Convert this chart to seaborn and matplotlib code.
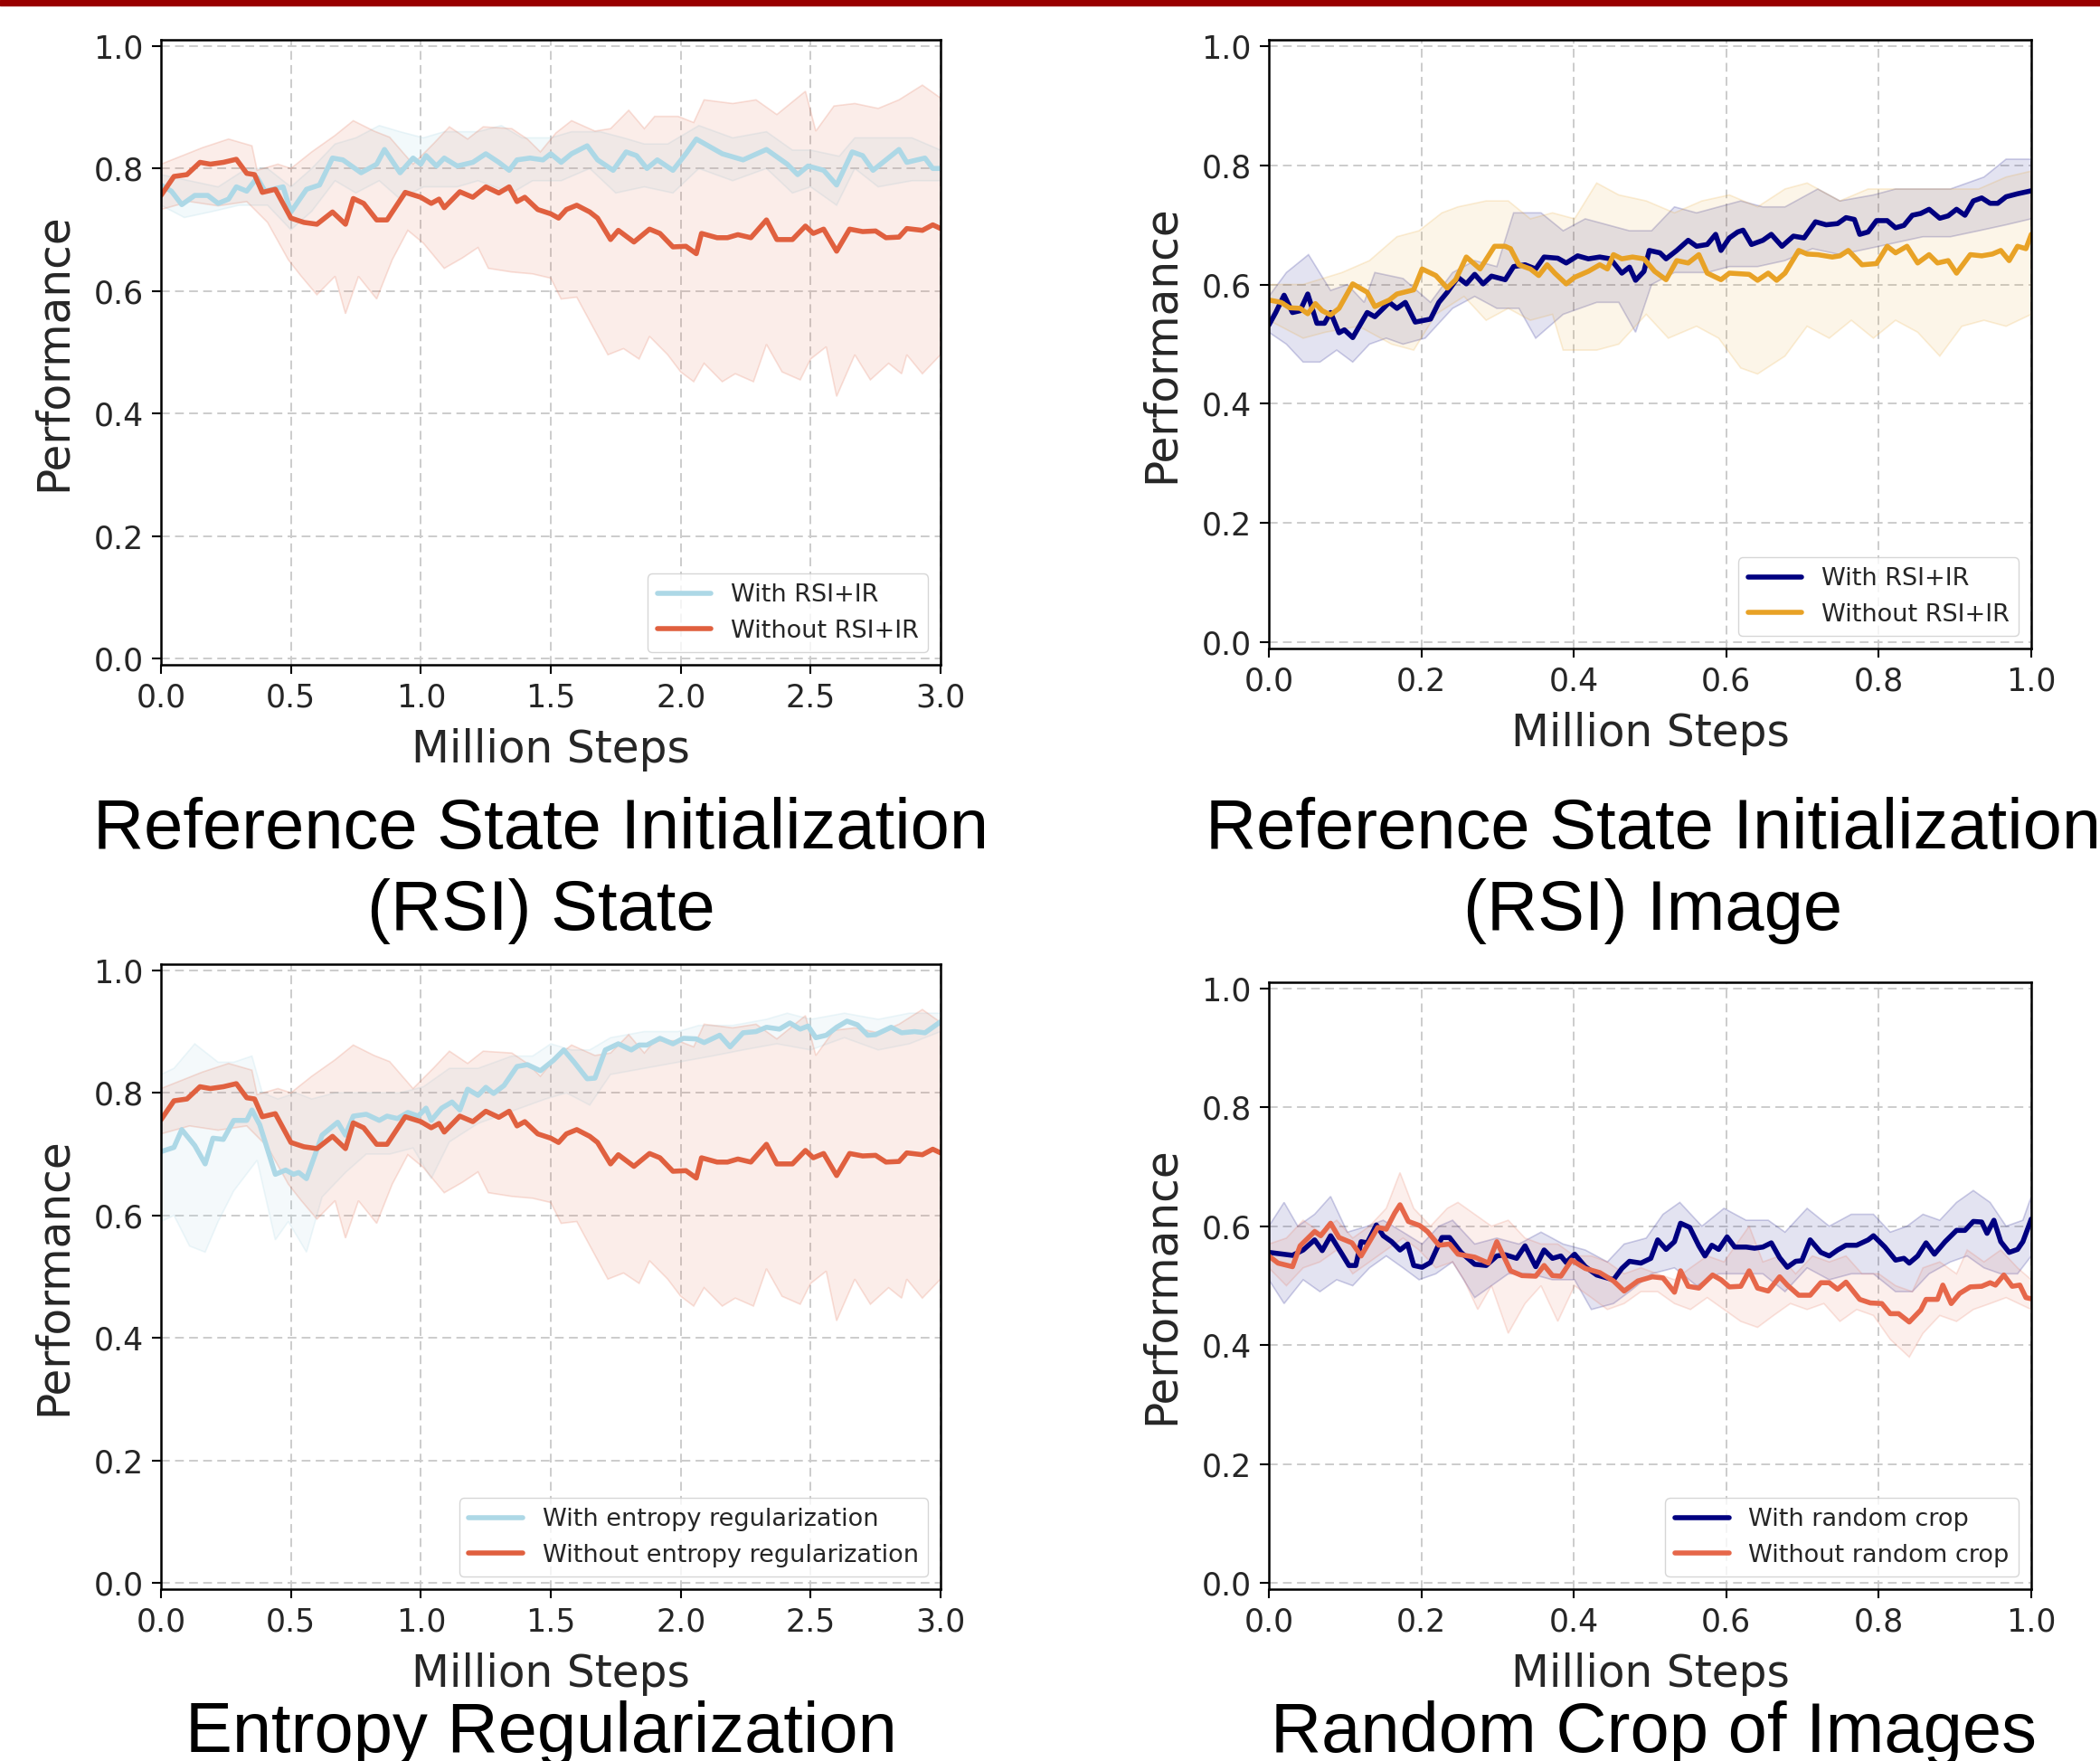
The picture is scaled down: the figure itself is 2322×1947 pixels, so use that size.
import numpy as np
import matplotlib
matplotlib.use("Agg")
import matplotlib.pyplot as plt
import seaborn as sns
from matplotlib.patches import Rectangle
from matplotlib.colors import to_rgba

# ---------------- DATA ----------------
# Panel 1: Reference State Initialization (RSI) State  (x in million steps)
p1_with_x = [0, 0.04, 0.08, 0.13, 0.18, 0.22, 0.26, 0.29, 0.33, 0.37,
             0.4, 0.47, 0.5, 0.56, 0.61, 0.66, 0.7, 0.77, 0.83, 0.86,
             0.92, 0.97, 1.0, 1.02, 1.06, 1.09, 1.14, 1.2, 1.25, 1.3,
             1.34, 1.37, 1.42, 1.47, 1.5, 1.54, 1.58, 1.64, 1.68, 1.74,
             1.79, 1.83, 1.87, 1.91, 1.97, 2.02, 2.06, 2.16, 2.24, 2.33,
             2.41, 2.45, 2.49, 2.55, 2.6, 2.66, 2.7, 2.74, 2.84, 2.87,
             2.94, 2.97, 3.0]
p1_with_y = [0.773, 0.763, 0.741, 0.756, 0.756, 0.743, 0.75, 0.77, 0.763, 0.785,
             0.763, 0.77, 0.729, 0.766, 0.773, 0.817, 0.814, 0.793, 0.807, 0.831,
             0.793, 0.817, 0.807, 0.821, 0.804, 0.817, 0.804, 0.81, 0.824, 0.81,
             0.797, 0.814, 0.817, 0.814, 0.824, 0.81, 0.824, 0.837, 0.814, 0.797,
             0.827, 0.821, 0.80, 0.814, 0.797, 0.824, 0.848, 0.824, 0.814, 0.831,
             0.807, 0.79, 0.804, 0.797, 0.773, 0.827, 0.821, 0.797, 0.831, 0.81,
             0.817, 0.80, 0.80]
p1_with_up_x = [0, 0.11, 0.22, 0.33, 0.41, 0.5, 0.58, 0.67, 0.75, 0.84,
                0.92, 1.01, 1.09, 1.22, 1.31, 1.39, 1.5, 1.58, 1.69, 1.78,
                1.86, 1.95, 2.07, 2.2, 2.33, 2.43, 2.5, 2.61, 2.67, 2.8,
                2.89, 3.0]
p1_with_up_y = [0.79, 0.78, 0.77, 0.80, 0.80, 0.77, 0.80, 0.84, 0.85, 0.87,
                0.86, 0.85, 0.86, 0.86, 0.87, 0.85, 0.85, 0.86, 0.86, 0.85,
                0.84, 0.84, 0.87, 0.85, 0.86, 0.83, 0.83, 0.82, 0.85, 0.85,
                0.85, 0.83]
p1_with_lo_x = [0, 0.09, 0.2, 0.3, 0.41, 0.5, 0.58, 0.67, 0.75, 0.84,
                0.92, 1.01, 1.14, 1.22, 1.35, 1.43, 1.54, 1.65, 1.75, 1.86,
                1.97, 2.07, 2.2, 2.33, 2.43, 2.5, 2.6, 2.67, 2.76, 2.89,
                3.0]
p1_with_lo_y = [0.74, 0.72, 0.73, 0.74, 0.74, 0.70, 0.73, 0.78, 0.76, 0.78,
                0.75, 0.77, 0.77, 0.78, 0.76, 0.78, 0.78, 0.80, 0.76, 0.77,
                0.76, 0.80, 0.78, 0.80, 0.76, 0.77, 0.74, 0.80, 0.77, 0.78,
                0.78]

p1_without_x = [0.0, 0.05, 0.10, 0.15, 0.19, 0.24, 0.29, 0.33, 0.36, 0.39,
                0.44, 0.50, 0.55, 0.60, 0.66, 0.71, 0.74, 0.78, 0.83, 0.87,
                0.94, 1.0, 1.04, 1.07, 1.09, 1.15, 1.2, 1.25, 1.3, 1.34,
                1.37, 1.4, 1.45, 1.5, 1.53, 1.56, 1.6, 1.65, 1.68, 1.73,
                1.76, 1.82, 1.88, 1.92, 1.97, 2.02, 2.06, 2.08, 2.14, 2.18,
                2.22, 2.27, 2.33, 2.37, 2.43, 2.48, 2.51, 2.55, 2.6, 2.65,
                2.7, 2.75, 2.79, 2.84, 2.87, 2.93, 2.97, 3.0]
p1_without_y = [0.756, 0.787, 0.79, 0.81, 0.807, 0.81, 0.815, 0.792, 0.79, 0.761,
                0.766, 0.719, 0.712, 0.709, 0.729, 0.709, 0.751, 0.743, 0.716, 0.716,
                0.761, 0.753, 0.743, 0.75, 0.736, 0.762, 0.753, 0.77, 0.76, 0.77,
                0.746, 0.753, 0.733, 0.726, 0.719, 0.733, 0.74, 0.729, 0.719, 0.684,
                0.699, 0.68, 0.701, 0.694, 0.672, 0.673, 0.661, 0.694, 0.687, 0.687,
                0.692, 0.687, 0.716, 0.684, 0.684, 0.706, 0.694, 0.701, 0.665, 0.701,
                0.697, 0.698, 0.687, 0.688, 0.702, 0.699, 0.708, 0.702]
p1_without_up_x = [0, 0.16, 0.26, 0.35, 0.37, 0.45, 0.5, 0.58, 0.67, 0.74,
                   0.82, 0.88, 0.97, 1.05, 1.11, 1.18, 1.24, 1.35, 1.41, 1.46,
                   1.52, 1.58, 1.67, 1.73, 1.8, 1.86, 1.9, 1.99, 2.05, 2.09,
                   2.2, 2.29, 2.37, 2.48, 2.52, 2.59, 2.67, 2.76, 2.84, 2.93,
                   3.0]
p1_without_up_y = [0.807, 0.834, 0.848, 0.837, 0.797, 0.807, 0.80, 0.827, 0.854, 0.878,
                   0.861, 0.851, 0.807, 0.841, 0.868, 0.848, 0.868, 0.865, 0.848, 0.827,
                   0.858, 0.878, 0.861, 0.865, 0.895, 0.865, 0.885, 0.885, 0.875, 0.912,
                   0.906, 0.912, 0.888, 0.926, 0.861, 0.902, 0.906, 0.898, 0.912, 0.936,
                   0.915]
p1_without_lo_x = [0, 0.11, 0.22, 0.33, 0.41, 0.49, 0.54, 0.60, 0.67, 0.71,
                   0.76, 0.83, 0.89, 0.95, 1.01, 1.09, 1.16, 1.22, 1.26, 1.35,
                   1.43, 1.5, 1.54, 1.6, 1.66, 1.72, 1.78, 1.84, 1.88, 1.95,
                   2.0, 2.05, 2.09, 2.16, 2.21, 2.28, 2.33, 2.39, 2.46, 2.5,
                   2.56, 2.6, 2.67, 2.73, 2.8, 2.85, 2.87, 2.93, 3.0]
p1_without_lo_y = [0.733, 0.746, 0.739, 0.746, 0.712, 0.651, 0.624, 0.594, 0.624, 0.563,
                   0.624, 0.587, 0.651, 0.699, 0.678, 0.637, 0.654, 0.671, 0.637, 0.631,
                   0.628, 0.621, 0.587, 0.59, 0.543, 0.496, 0.506, 0.489, 0.526, 0.496,
                   0.468, 0.452, 0.482, 0.452, 0.465, 0.452, 0.513, 0.468, 0.455, 0.489,
                   0.509, 0.428, 0.496, 0.455, 0.482, 0.465, 0.496, 0.465, 0.496]

# Panel 2: Reference State Initialization (RSI) Image
p2_with_x = [0, 0.009, 0.02, 0.031, 0.041, 0.051, 0.063, 0.073, 0.081, 0.092,
             0.099, 0.11, 0.129, 0.139, 0.158, 0.168, 0.179, 0.192, 0.212, 0.223,
             0.234, 0.248, 0.259, 0.27, 0.281, 0.292, 0.31, 0.321, 0.336, 0.35,
             0.361, 0.379, 0.39, 0.405, 0.419, 0.434, 0.448, 0.463, 0.473, 0.481,
             0.492, 0.499, 0.513, 0.521, 0.535, 0.55, 0.561, 0.575, 0.586, 0.593,
             0.604, 0.615, 0.622, 0.633, 0.648, 0.659, 0.673, 0.688, 0.702, 0.717,
             0.731, 0.746, 0.757, 0.768, 0.775, 0.786, 0.797, 0.811, 0.822, 0.833,
             0.844, 0.855, 0.866, 0.88, 0.891, 0.902, 0.913, 0.924, 0.935, 0.946,
             0.956, 0.967, 0.982, 1.0]
p2_with_y = [0.532, 0.553, 0.582, 0.553, 0.556, 0.584, 0.535, 0.535, 0.553, 0.519,
             0.524, 0.511, 0.553, 0.546, 0.57, 0.56, 0.57, 0.537, 0.542, 0.57,
             0.587, 0.612, 0.601, 0.617, 0.601, 0.614, 0.608, 0.63, 0.633, 0.626,
             0.646, 0.644, 0.636, 0.648, 0.643, 0.646, 0.643, 0.619, 0.629, 0.607,
             0.622, 0.657, 0.653, 0.643, 0.657, 0.674, 0.664, 0.667, 0.684, 0.657,
             0.678, 0.688, 0.691, 0.667, 0.674, 0.684, 0.664, 0.681, 0.678, 0.705,
             0.70, 0.702, 0.712, 0.709, 0.684, 0.688, 0.707, 0.707, 0.695, 0.699,
             0.716, 0.719, 0.726, 0.711, 0.715, 0.726, 0.716, 0.74, 0.745, 0.736,
             0.736, 0.747, 0.752, 0.757]
p2_with_up_x = [0, 0.023, 0.052, 0.081, 0.103, 0.125, 0.139, 0.176, 0.212, 0.241,
                0.27, 0.299, 0.321, 0.357, 0.386, 0.415, 0.444, 0.473, 0.502, 0.532,
                0.561, 0.59, 0.619, 0.648, 0.677, 0.72, 0.749, 0.793, 0.822, 0.858,
                0.894, 0.938, 0.967, 1.0]
p2_with_up_y = [0.58, 0.62, 0.65, 0.59, 0.60, 0.57, 0.62, 0.61, 0.57, 0.62,
                0.64, 0.63, 0.72, 0.72, 0.69, 0.71, 0.70, 0.69, 0.69, 0.73,
                0.72, 0.73, 0.74, 0.73, 0.73, 0.76, 0.74, 0.75, 0.76, 0.76,
                0.76, 0.78, 0.81, 0.81]
p2_with_lo_x = [0, 0.023, 0.045, 0.067, 0.089, 0.11, 0.132, 0.154, 0.176, 0.205,
                0.241, 0.27, 0.299, 0.328, 0.35, 0.386, 0.43, 0.459, 0.481, 0.502,
                0.532, 0.575, 0.604, 0.641, 0.677, 0.713, 0.749, 0.786, 0.822, 0.858,
                0.894, 0.931, 0.967, 1.0]
p2_with_lo_y = [0.52, 0.50, 0.47, 0.47, 0.49, 0.47, 0.50, 0.51, 0.50, 0.51,
                0.56, 0.58, 0.56, 0.56, 0.51, 0.55, 0.57, 0.57, 0.52, 0.60,
                0.62, 0.62, 0.63, 0.63, 0.64, 0.66, 0.65, 0.66, 0.67, 0.68,
                0.68, 0.69, 0.70, 0.71]

p2_without_x = [0, 0.016, 0.027, 0.041, 0.051, 0.061, 0.07, 0.081, 0.092, 0.11,
                0.129, 0.139, 0.158, 0.168, 0.19, 0.201, 0.219, 0.234, 0.245, 0.259,
                0.277, 0.296, 0.31, 0.317, 0.328, 0.343, 0.354, 0.365, 0.375, 0.39,
                0.401, 0.419, 0.434, 0.444, 0.452, 0.463, 0.477, 0.492, 0.506, 0.521,
                0.535, 0.55, 0.564, 0.575, 0.593, 0.604, 0.63, 0.641, 0.655, 0.666,
                0.677, 0.695, 0.706, 0.72, 0.739, 0.749, 0.76, 0.778, 0.797, 0.811,
                0.822, 0.837, 0.851, 0.866, 0.877, 0.891, 0.902, 0.92, 0.935, 0.949,
                0.96, 0.971, 0.982, 0.993, 1.0]
p2_without_y = [0.574, 0.57, 0.561, 0.56, 0.551, 0.568, 0.556, 0.549, 0.56, 0.601,
                0.587, 0.563, 0.574, 0.584, 0.591, 0.626, 0.615, 0.594, 0.608, 0.646,
                0.626, 0.664, 0.664, 0.66, 0.633, 0.626, 0.615, 0.633, 0.619, 0.601,
                0.612, 0.622, 0.633, 0.626, 0.65, 0.643, 0.646, 0.643, 0.622, 0.608,
                0.64, 0.636, 0.65, 0.619, 0.608, 0.619, 0.617, 0.607, 0.619, 0.607,
                0.619, 0.657, 0.651, 0.65, 0.646, 0.648, 0.657, 0.633, 0.635, 0.664,
                0.653, 0.664, 0.636, 0.65, 0.636, 0.64, 0.619, 0.65, 0.648, 0.651,
                0.657, 0.64, 0.664, 0.66, 0.684]
p2_without_up_x = [0, 0.045, 0.096, 0.132, 0.168, 0.197, 0.227, 0.248, 0.285, 0.314,
                   0.343, 0.372, 0.401, 0.43, 0.459, 0.495, 0.532, 0.568, 0.604, 0.641,
                   0.677, 0.706, 0.749, 0.786, 0.822, 0.88, 0.931, 0.967, 1.0]
p2_without_up_y = [0.60, 0.60, 0.62, 0.64, 0.68, 0.69, 0.72, 0.73, 0.74, 0.74,
                   0.71, 0.72, 0.71, 0.77, 0.75, 0.74, 0.72, 0.74, 0.75, 0.73,
                   0.76, 0.77, 0.74, 0.76, 0.76, 0.76, 0.76, 0.78, 0.79]
p2_without_lo_x = [0, 0.045, 0.074, 0.118, 0.161, 0.19, 0.219, 0.256, 0.285, 0.314,
                   0.343, 0.372, 0.386, 0.43, 0.459, 0.495, 0.524, 0.561, 0.59, 0.619,
                   0.641, 0.677, 0.706, 0.735, 0.764, 0.793, 0.822, 0.851, 0.88, 0.909,
                   0.938, 0.967, 1.0]
p2_without_lo_y = [0.54, 0.51, 0.52, 0.53, 0.50, 0.49, 0.55, 0.58, 0.54, 0.56,
                   0.54, 0.55, 0.49, 0.49, 0.50, 0.55, 0.51, 0.53, 0.51, 0.46,
                   0.45, 0.48, 0.53, 0.51, 0.54, 0.51, 0.54, 0.52, 0.48, 0.53,
                   0.54, 0.53, 0.55]

# Panel 3: Entropy Regularization ("without" curve is the same run as panel 1)
p3_with_x = [0, 0.05, 0.08, 0.13, 0.17, 0.2, 0.24, 0.28, 0.33, 0.35,
             0.38, 0.44, 0.48, 0.51, 0.53, 0.56, 0.62, 0.68, 0.71, 0.74,
             0.79, 0.84, 0.87, 0.91, 0.95, 0.99, 1.02, 1.04, 1.08, 1.12,
             1.15, 1.18, 1.22, 1.25, 1.28, 1.32, 1.37, 1.41, 1.46, 1.51,
             1.55, 1.59, 1.64, 1.67, 1.71, 1.76, 1.81, 1.84, 1.87, 1.92,
             1.97, 2.01, 2.06, 2.09, 2.15, 2.19, 2.24, 2.29, 2.33, 2.38,
             2.42, 2.46, 2.49, 2.52, 2.56, 2.6, 2.64, 2.68, 2.72, 2.75,
             2.81, 2.85, 2.9, 2.94, 3.0]
p3_with_y = [0.704, 0.711, 0.74, 0.714, 0.684, 0.726, 0.724, 0.755, 0.755, 0.772,
             0.748, 0.667, 0.674, 0.667, 0.67, 0.66, 0.731, 0.752, 0.731, 0.762,
             0.765, 0.755, 0.762, 0.758, 0.768, 0.762, 0.775, 0.755, 0.775, 0.785,
             0.772, 0.806, 0.796, 0.809, 0.799, 0.812, 0.843, 0.846, 0.836, 0.853,
             0.87, 0.85, 0.823, 0.824, 0.87, 0.88, 0.87, 0.878, 0.878, 0.889,
             0.88, 0.889, 0.888, 0.882, 0.894, 0.875, 0.898, 0.90, 0.907, 0.904,
             0.914, 0.904, 0.909, 0.89, 0.894, 0.907, 0.917, 0.911, 0.894, 0.895,
             0.907, 0.898, 0.90, 0.898, 0.916]
p3_with_up_x = [0, 0.05, 0.13, 0.22, 0.28, 0.35, 0.39, 0.45, 0.52, 0.58,
                0.67, 0.75, 0.84, 0.92, 1.01, 1.11, 1.22, 1.35, 1.43, 1.5,
                1.58, 1.65, 1.73, 1.86, 1.99, 2.07, 2.2, 2.33, 2.41, 2.5,
                2.63, 2.76, 2.88, 3.0]
p3_with_up_y = [0.83, 0.84, 0.88, 0.85, 0.85, 0.86, 0.80, 0.79, 0.80, 0.79,
                0.80, 0.80, 0.80, 0.80, 0.81, 0.84, 0.84, 0.86, 0.86, 0.88,
                0.87, 0.87, 0.89, 0.90, 0.90, 0.91, 0.91, 0.92, 0.93, 0.92,
                0.93, 0.92, 0.93, 0.93]
p3_with_lo_x = [0, 0.05, 0.11, 0.17, 0.22, 0.28, 0.37, 0.44, 0.49, 0.56,
                0.62, 0.71, 0.79, 0.88, 0.97, 1.04, 1.11, 1.22, 1.35, 1.48,
                1.56, 1.65, 1.73, 1.86, 1.99, 2.12, 2.24, 2.37, 2.5, 2.63,
                2.76, 2.88, 3.0]
p3_with_lo_y = [0.59, 0.60, 0.55, 0.54, 0.59, 0.64, 0.69, 0.56, 0.59, 0.54,
                0.63, 0.67, 0.70, 0.70, 0.71, 0.66, 0.72, 0.75, 0.77, 0.79,
                0.80, 0.78, 0.83, 0.84, 0.85, 0.86, 0.87, 0.88, 0.87, 0.89,
                0.87, 0.88, 0.90]

# Panel 4: Random Crop of Images
p4_with_x = [0, 0.031, 0.045, 0.06, 0.07, 0.081, 0.096, 0.105, 0.114, 0.121,
             0.129, 0.141, 0.15, 0.161, 0.172, 0.182, 0.19, 0.201, 0.212, 0.227,
             0.237, 0.252, 0.27, 0.285, 0.299, 0.31, 0.325, 0.336, 0.35, 0.361,
             0.372, 0.383, 0.39, 0.401, 0.415, 0.43, 0.452, 0.463, 0.473, 0.488,
             0.501, 0.51, 0.521, 0.532, 0.54, 0.552, 0.564, 0.572, 0.581, 0.59,
             0.601, 0.611, 0.626, 0.637, 0.648, 0.659, 0.67, 0.68, 0.691, 0.699,
             0.71, 0.724, 0.735, 0.746, 0.757, 0.771, 0.786, 0.793, 0.808, 0.822,
             0.833, 0.84, 0.851, 0.862, 0.873, 0.887, 0.902, 0.913, 0.924, 0.935,
             0.942, 0.951, 0.96, 0.971, 0.982, 0.989, 1.0]
p4_with_y = [0.556, 0.551, 0.56, 0.577, 0.559, 0.584, 0.553, 0.534, 0.534, 0.574,
             0.572, 0.602, 0.584, 0.574, 0.56, 0.57, 0.534, 0.531, 0.539, 0.581,
             0.581, 0.556, 0.536, 0.534, 0.55, 0.552, 0.546, 0.567, 0.532, 0.56,
             0.546, 0.55, 0.539, 0.553, 0.532, 0.518, 0.51, 0.529, 0.541, 0.538,
             0.546, 0.577, 0.561, 0.574, 0.605, 0.598, 0.567, 0.55, 0.568, 0.561,
             0.582, 0.565, 0.565, 0.563, 0.565, 0.572, 0.547, 0.531, 0.541, 0.542,
             0.577, 0.556, 0.55, 0.56, 0.568, 0.568, 0.577, 0.584, 0.565, 0.543,
             0.546, 0.538, 0.55, 0.572, 0.553, 0.574, 0.593, 0.593, 0.608, 0.607,
             0.588, 0.61, 0.574, 0.556, 0.561, 0.574, 0.612]
p4_with_up_x = [0, 0.02, 0.038, 0.06, 0.081, 0.103, 0.129, 0.15, 0.176, 0.201,
                0.223, 0.241, 0.27, 0.299, 0.328, 0.357, 0.386, 0.415, 0.444, 0.466,
                0.495, 0.517, 0.539, 0.568, 0.597, 0.626, 0.655, 0.677, 0.706, 0.735,
                0.764, 0.793, 0.815, 0.837, 0.858, 0.88, 0.902, 0.924, 0.946, 0.967,
                0.989, 1.0]
p4_with_up_y = [0.60, 0.64, 0.60, 0.62, 0.65, 0.59, 0.60, 0.61, 0.59, 0.57,
                0.60, 0.61, 0.57, 0.58, 0.57, 0.59, 0.57, 0.56, 0.54, 0.57,
                0.58, 0.62, 0.64, 0.60, 0.63, 0.61, 0.61, 0.59, 0.63, 0.60,
                0.62, 0.62, 0.59, 0.60, 0.62, 0.61, 0.64, 0.66, 0.64, 0.60,
                0.61, 0.65]
p4_with_lo_x = [0, 0.02, 0.045, 0.067, 0.089, 0.11, 0.132, 0.154, 0.176, 0.197,
                0.219, 0.241, 0.27, 0.292, 0.314, 0.343, 0.372, 0.401, 0.423, 0.452,
                0.473, 0.502, 0.532, 0.561, 0.59, 0.619, 0.648, 0.677, 0.706, 0.735,
                0.764, 0.793, 0.822, 0.844, 0.866, 0.894, 0.916, 0.938, 0.96, 0.982,
                1.0]
p4_with_lo_y = [0.51, 0.47, 0.51, 0.49, 0.51, 0.50, 0.53, 0.55, 0.53, 0.51,
                0.52, 0.54, 0.48, 0.50, 0.52, 0.52, 0.51, 0.51, 0.46, 0.47,
                0.49, 0.52, 0.53, 0.50, 0.52, 0.52, 0.52, 0.49, 0.53, 0.51,
                0.52, 0.52, 0.49, 0.49, 0.52, 0.54, 0.55, 0.53, 0.52, 0.52,
                0.55]

p4_without_x = [0, 0.012, 0.031, 0.041, 0.06, 0.068, 0.081, 0.092, 0.109, 0.121,
                0.132, 0.143, 0.154, 0.165, 0.172, 0.183, 0.198, 0.208, 0.223, 0.237,
                0.248, 0.27, 0.288, 0.299, 0.317, 0.332, 0.35, 0.361, 0.372, 0.383,
                0.397, 0.415, 0.434, 0.452, 0.466, 0.484, 0.503, 0.517, 0.532, 0.54,
                0.55, 0.564, 0.582, 0.593, 0.604, 0.619, 0.63, 0.641, 0.655, 0.67,
                0.68, 0.695, 0.71, 0.724, 0.735, 0.746, 0.757, 0.775, 0.789, 0.804,
                0.815, 0.826, 0.84, 0.855, 0.862, 0.877, 0.884, 0.895, 0.906, 0.92,
                0.935, 0.946, 0.953, 0.964, 0.975, 0.985, 0.993, 1.0]
p4_without_y = [0.55, 0.538, 0.532, 0.567, 0.591, 0.584, 0.605, 0.581, 0.572, 0.55,
                0.574, 0.598, 0.595, 0.622, 0.636, 0.608, 0.601, 0.591, 0.568, 0.57,
                0.553, 0.548, 0.538, 0.574, 0.525, 0.517, 0.516, 0.534, 0.517, 0.516,
                0.543, 0.529, 0.522, 0.508, 0.491, 0.508, 0.515, 0.513, 0.489, 0.525,
                0.499, 0.496, 0.518, 0.51, 0.498, 0.499, 0.525, 0.496, 0.491, 0.515,
                0.501, 0.484, 0.484, 0.505, 0.505, 0.494, 0.506, 0.477, 0.471, 0.47,
                0.453, 0.453, 0.439, 0.459, 0.477, 0.477, 0.501, 0.47, 0.487, 0.498,
                0.499, 0.505, 0.501, 0.518, 0.499, 0.501, 0.48, 0.478]
p4_without_up_x = [0, 0.023, 0.045, 0.067, 0.089, 0.11, 0.132, 0.154, 0.172, 0.19,
                   0.212, 0.234, 0.248, 0.27, 0.292, 0.314, 0.336, 0.357, 0.379, 0.401,
                   0.423, 0.444, 0.466, 0.488, 0.51, 0.532, 0.553, 0.575, 0.597, 0.63,
                   0.648, 0.67, 0.691, 0.713, 0.735, 0.757, 0.778, 0.8, 0.822, 0.844,
                   0.858, 0.88, 0.902, 0.916, 0.938, 0.96, 0.982, 1.0]
p4_without_up_y = [0.57, 0.58, 0.61, 0.59, 0.61, 0.58, 0.60, 0.63, 0.69, 0.63,
                   0.60, 0.63, 0.64, 0.62, 0.60, 0.61, 0.58, 0.57, 0.57, 0.55,
                   0.55, 0.54, 0.52, 0.53, 0.52, 0.51, 0.53, 0.55, 0.54, 0.60,
                   0.54, 0.55, 0.52, 0.55, 0.54, 0.55, 0.52, 0.52, 0.50, 0.49,
                   0.53, 0.54, 0.52, 0.56, 0.54, 0.56, 0.53, 0.51]
p4_without_lo_x = [0, 0.023, 0.045, 0.067, 0.089, 0.11, 0.132, 0.154, 0.176, 0.197,
                   0.219, 0.241, 0.256, 0.274, 0.292, 0.314, 0.336, 0.357, 0.379, 0.401,
                   0.423, 0.444, 0.466, 0.488, 0.51, 0.532, 0.553, 0.575, 0.597, 0.619,
                   0.641, 0.662, 0.684, 0.706, 0.728, 0.749, 0.771, 0.793, 0.815, 0.84,
                   0.858, 0.88, 0.902, 0.924, 0.946, 0.967, 1.0]
p4_without_lo_y = [0.53, 0.50, 0.53, 0.54, 0.56, 0.52, 0.54, 0.56, 0.58, 0.56,
                   0.53, 0.54, 0.51, 0.46, 0.50, 0.42, 0.47, 0.50, 0.44, 0.50,
                   0.48, 0.46, 0.47, 0.49, 0.49, 0.47, 0.46, 0.48, 0.46, 0.44,
                   0.43, 0.45, 0.47, 0.46, 0.47, 0.44, 0.46, 0.45, 0.41, 0.38,
                   0.42, 0.45, 0.44, 0.46, 0.47, 0.48, 0.46]

x_ticks_long = [0.0, 0.5, 1.0, 1.5, 2.0, 2.5, 3.0]
x_ticks_short = [0.0, 0.2, 0.4, 0.6, 0.8, 1.0]
y_ticks = [0.0, 0.2, 0.4, 0.6, 0.8, 1.0]

titles = ["Reference State Initialization\n(RSI) State",
          "Reference State Initialization\n(RSI) Image",
          "Entropy Regularization",
          "Random Crop of Images"]

# ---------------- STYLE ----------------
sns.set_style("ticks")
plt.rcParams['font.family'] = ['DejaVu Sans']

LIGHTBLUE = "#add8e6"
RED = "#e0603f"
RED2 = "#e6674a"
NAVY = "#000080"
ORANGE = "#e8a226"

W, H = 2322, 1947
fig = plt.figure(figsize=(W / 100, H / 100), dpi=100)
fig.patches.append(Rectangle((0, 1 - 6 / H), 1, 6 / H, transform=fig.transFigure,
                             color="#990000", zorder=10))


def add_ax(left, top, right, bottom):
    return fig.add_axes([left / W, 1 - bottom / H, (right - left) / W, (bottom - top) / H])


def band(ax, ux, uy, lx, ly, color, a=0.13):
    xs = np.concatenate([np.asarray(ux), np.asarray(lx)[::-1]])
    ys = np.concatenate([np.asarray(uy), np.asarray(ly)[::-1]])
    ax.fill(xs, ys, facecolor=to_rgba(color, a), edgecolor=to_rgba(color, a + 0.08),
            lw=1.2, zorder=1)


def style(ax, xticks, xmax):
    ax.set_xlim(0, xmax)
    ax.set_ylim(-0.01, 1.01)
    ax.set_xticks(xticks)
    ax.set_yticks(y_ticks)
    ax.grid(True, linestyle=(0, (5, 3)), color="#cccccc", lw=1.4, zorder=0)
    ax.set_axisbelow(True)
    for s in ax.spines.values():
        s.set_visible(True)
        s.set_color("black")
        s.set_linewidth(1.8)
    ax.tick_params(axis="both", labelsize=25, length=7, width=1.5, pad=7, color="black")
    ax.set_xlabel("Million Steps", fontsize=35, labelpad=12)
    ax.set_ylabel("Performance", fontsize=35, labelpad=15)
    leg = ax.legend(loc="lower right", fontsize=19.5, handlelength=2.2, frameon=True,
                    fancybox=True, framealpha=0.8, edgecolor="#cccccc",
                    borderaxespad=0.5)
    for ln in leg.get_lines():
        ln.set_linewidth(4)


LW = 4.0

# Panel 1
ax1 = add_ax(178, 44, 1040, 735)
band(ax1, p1_with_up_x, p1_with_up_y, p1_with_lo_x, p1_with_lo_y, LIGHTBLUE, 0.15)
band(ax1, p1_without_up_x, p1_without_up_y, p1_without_lo_x, p1_without_lo_y, RED, 0.11)
sns.lineplot(x=p1_with_x, y=p1_with_y, ax=ax1, color=LIGHTBLUE, lw=LW, label="With RSI+IR")
sns.lineplot(x=p1_without_x, y=p1_without_y, ax=ax1, color=RED, lw=LW, label="Without RSI+IR")
style(ax1, x_ticks_long, 3.0)

# Panel 2
ax2 = add_ax(1403, 44, 2246, 717)
band(ax2, p2_with_up_x, p2_with_up_y, p2_with_lo_x, p2_with_lo_y, NAVY, 0.11)
band(ax2, p2_without_up_x, p2_without_up_y, p2_without_lo_x, p2_without_lo_y, ORANGE, 0.10)
sns.lineplot(x=p2_with_x, y=p2_with_y, ax=ax2, color=NAVY, lw=LW, label="With RSI+IR")
sns.lineplot(x=p2_without_x, y=p2_without_y, ax=ax2, color=ORANGE, lw=LW, label="Without RSI+IR")
style(ax2, x_ticks_short, 1.0)

# Panel 3
ax3 = add_ax(178, 1066, 1040, 1757)
band(ax3, p3_with_up_x, p3_with_up_y, p3_with_lo_x, p3_with_lo_y, LIGHTBLUE, 0.13)
band(ax3, p1_without_up_x, p1_without_up_y, p1_without_lo_x, p1_without_lo_y, RED, 0.11)
sns.lineplot(x=p3_with_x, y=p3_with_y, ax=ax3, color=LIGHTBLUE, lw=LW,
             label="With entropy regularization")
sns.lineplot(x=p1_without_x, y=p1_without_y, ax=ax3, color=RED, lw=LW,
             label="Without entropy regularization")
style(ax3, x_ticks_long, 3.0)

# Panel 4
ax4 = add_ax(1403, 1086, 2246, 1757)
band(ax4, p4_with_up_x, p4_with_up_y, p4_with_lo_x, p4_with_lo_y, NAVY, 0.11)
band(ax4, p4_without_up_x, p4_without_up_y, p4_without_lo_x, p4_without_lo_y, RED2, 0.10)
sns.lineplot(x=p4_with_x, y=p4_with_y, ax=ax4, color=NAVY, lw=LW, label="With random crop")
sns.lineplot(x=p4_without_x, y=p4_without_y, ax=ax4, color=RED2, lw=LW,
             label="Without random crop")
style(ax4, x_ticks_short, 1.0)

# Titles below each panel
TFONT = dict(family=["Liberation Sans", "DejaVu Sans"], fontsize=56, ha="center",
             color="black")
fig.text(598 / W, 1 - 1028 / H, titles[0], va="baseline", linespacing=1.3, **TFONT)
fig.text(1828 / W, 1 - 1028 / H, titles[1], va="baseline", linespacing=1.3, **TFONT)
fig.text(598 / W, 1 - 1937 / H, titles[2], va="baseline", **TFONT)
fig.text(1828 / W, 1 - 1937 / H, titles[3], va="baseline", **TFONT)

fig.savefig("out.png", dpi=100)
